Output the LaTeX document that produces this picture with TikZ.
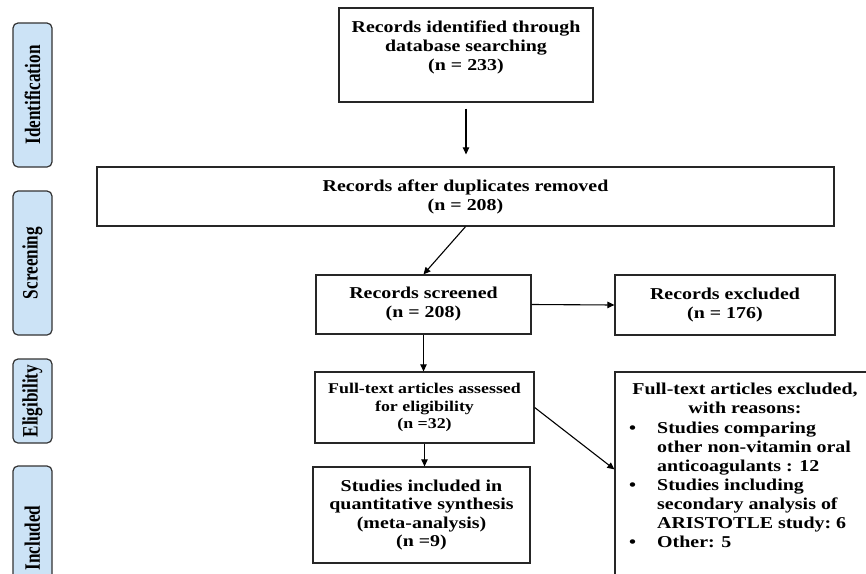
\documentclass[tikz,border=0pt]{standalone}
\usepackage{fontspec}
\setmainfont{Liberation Serif}[FakeStretch=1.2]
\newfontfamily\sidefont{Liberation Serif}[FakeStretch=0.78]
\usetikzlibrary{arrows.meta,calc}
\definecolor{sidefill}{HTML}{CCE3F6}
\begin{document}
\begin{tikzpicture}[x=1pt,y=-1pt,
  box/.style={draw=black!85,line width=1.3pt,rectangle,inner sep=0pt,align=center,
    font=\bfseries\fontsize{16.6}{19}\selectfont},
  txt/.style={inner sep=0pt,align=center,font=\bfseries\fontsize{16.6}{19}\selectfont},
  side/.style={draw=black!80,line width=1.2pt,rounded corners=5pt,fill=sidefill,
    inner sep=0pt,rotate=90,font=\sidefont\bfseries\fontsize{22}{24}\selectfont},
  arr/.style={draw=black,line width=1.1pt,-{Triangle[length=7pt,width=6.5pt]}}]
\clip (0,0) rectangle (866,573);
\fill[white] (0,0) rectangle (866,573);

% side labels
\node[side, minimum width=144pt, minimum height=39pt] (sident) at (32.5,95) {Identification};
\node[side, minimum width=144pt, minimum height=39pt] (sscr) at (32.5,263) {Screening};
\node[side, minimum width=84pt, minimum height=39pt] (selig) at (32.5,401) {Eligibility};
\node[side, minimum width=144pt, minimum height=39pt] (sincl) at (32.5,538) {Included};

% boxes
\node[box, minimum width=254pt, minimum height=94pt] (ident) at (466,55) {};
\node[txt] (identtxt) at (466,47) {Records identified through\\database searching\\(n = 233)};
\node[box, minimum width=737pt, minimum height=59pt] (dup) at (465.5,196.5) {Records after duplicates removed\\(n = 208)};
\node[box, minimum width=215pt, minimum height=59pt] (scr) at (423.5,304.5) {Records screened\\(n = 208)};
\node[box, minimum width=220pt, minimum height=60pt] (exc) at (725,305) {Records excluded\\(n = 176)};
\node[box, minimum width=219pt, minimum height=71pt, font=\bfseries\fontsize{14.9}{17.5}\selectfont] (full) at (424.5,407.5) {Full-text articles assessed\\for eligibility\\(n =32)};
\node[box, minimum width=217pt, minimum height=96pt, font=\bfseries\fontsize{16.6}{18.4}\selectfont] (incl) at (421.5,515) {Studies included in\\quantitative synthesis\\(meta-analysis)\\(n =9)};
\node[box, minimum width=260pt, minimum height=218pt] (reas) at (745,481) {};
\node[txt, anchor=north] (reashead) at (745,383) {Full-text articles excluded,\\with reasons:};
\node[txt, anchor=north west, align=left] (reaslist) at (629,422) {%
\makebox[28pt][l]{\textbullet}Studies comparing\\
\hspace*{28pt}other non-vitamin oral\\
\hspace*{28pt}anticoagulants : 12\\
\makebox[28pt][l]{\textbullet}Studies including\\
\hspace*{28pt}secondary analysis of\\
\hspace*{28pt}ARISTOTLE study:\ 6\\
\makebox[28pt][l]{\textbullet}Other: 5};

% connectors
\draw[arr, shorten <=6pt, shorten >=12pt] (ident.south) -- (ident.south |- dup.north);
\draw[arr] (dup.south) -- (scr.north);
\draw[arr] (scr.east) -- (exc.west);
\draw[arr] (scr.south) -- (scr.south |- full.north);
\draw[arr] (full.south) -- (full.south |- incl.north);
\draw[arr] (full.east) -- ($(reas.north west)+(0,98)$);
\end{tikzpicture}
\end{document}
